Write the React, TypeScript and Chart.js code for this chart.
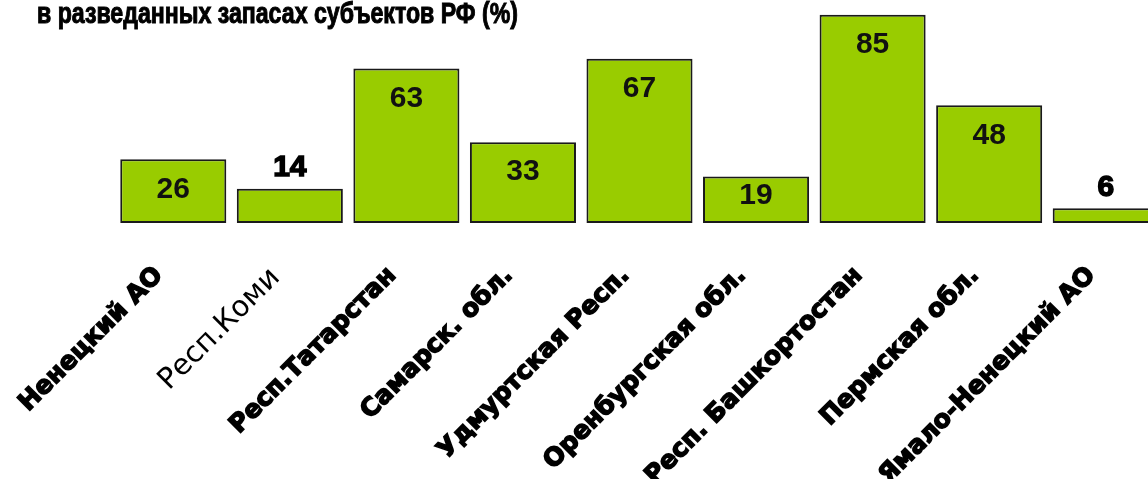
import React, { useEffect, useRef } from "react";
import { Chart, registerables } from "chart.js";

Chart.register(...registerables);

const titleText = "в разведанных запасах субъектов РФ (%)";
const categories = [
  "Ненецкий АО",
  "Респ.Коми",
  "Респ.Татарстан",
  "Самарск. обл.",
  "Удмуртская Респ.",
  "Оренбургская обл.",
  "Респ. Башкортостан",
  "Пермская обл.",
  "Ямало-Ненецкий АО",
];
const shares = [26, 14, 63, 33, 67, 19, 85, 48, 6];
const boldLabel = [true, false, true, true, true, true, true, true, true];

const titlePlugin = {
  id: "topTitle",
  afterDraw(chart: any) {
    const ctx = chart.ctx;
    ctx.save();
    ctx.font = "bold 29px 'Liberation Sans Narrow', 'Liberation Sans', Arial, sans-serif";
    ctx.fillStyle = "#000";
    ctx.textBaseline = "alphabetic";
    ctx.textAlign = "left";
    const w = ctx.measureText(titleText).width;
    ctx.translate(37, 23);
    ctx.scale(481 / w, 1);
    ctx.fillText(titleText, 0, 0);
    ctx.lineWidth = 1;
    ctx.strokeStyle = "#000";
    ctx.strokeText(titleText, 0, 0);
    ctx.restore();
  },
};

const valuePlugin = {
  id: "valueLabels",
  afterDatasetsDraw(chart: any) {
    const ctx = chart.ctx;
    const meta = chart.getDatasetMeta(0);
    const data = chart.data.datasets[0].data;
    ctx.save();
    ctx.font = "bold 30px 'Liberation Sans', Arial, sans-serif";
    ctx.textAlign = "center";
    ctx.textBaseline = "middle";
    meta.data.forEach((el: any, i: number) => {
      const top = el.y;
      const base = el.base;
      const h = base - top;
      let cy: number;
      if (h < 40) {
        cy = top - 22;
        ctx.fillStyle = "#000";
        ctx.strokeStyle = "#000";
        ctx.lineWidth = 1.5;
        ctx.strokeText(String(data[i]), el.x, cy + 1);
      } else {
        cy = Math.min(top + 29, base - 28);
        ctx.fillStyle = "#111";
      }
      ctx.fillText(String(data[i]), el.x, cy + 1);
    });
    ctx.restore();
  },
};

export default function App() {
  const ref = useRef<HTMLCanvasElement>(null);
  useEffect(() => {
    const chart = new Chart(ref.current!, {
      type: "bar",
      data: {
        labels: categories,
        datasets: [
          {
            data: shares,
            backgroundColor: "#99cc00",
            borderColor: "#1a1a1a",
            borderWidth: 2,
            borderSkipped: false,
            categoryPercentage: 1,
            barPercentage: 0.91,
          },
        ],
      },
      options: {
        responsive: false,
        animation: false,
        layout: { padding: { left: 115, right: 6, top: 0, bottom: 0 } },
        plugins: { legend: { display: false }, tooltip: { enabled: false } },
        scales: {
          y: { display: false, min: 0, max: 91 },
          x: {
            grid: { display: false, drawTicks: false },
            border: { display: false },
            ticks: {
              autoSkip: false,
              maxRotation: 45,
              minRotation: 45,
              padding: 38,
              labelOffset: -14,
              color: "#000",
              textStrokeColor: "#000",
              textStrokeWidth: (c: any) => (boldLabel[c.index] ? 1.5 : 0),
              font: (c: any) => ({
                family: "'DejaVu Sans', sans-serif",
                size: boldLabel[c.index] ? 25 : 29,
                weight: boldLabel[c.index] ? "bold" : "normal",
              }),
            },
            afterFit: (s: any) => {
              s.height = 256;
              s.paddingLeft = 0;
              s.paddingRight = 0;
            },
          },
        },
      },
      plugins: [titlePlugin, valuePlugin],
    });
    return () => chart.destroy();
  }, []);
  return (
    <div style={{ position: "fixed", left: 0, top: 0, width: 1148, height: 479, overflow: "hidden", background: "#fff" }}>
      <canvas ref={ref} width={1170} height={479} style={{ display: "block" }} />
    </div>
  );
}
